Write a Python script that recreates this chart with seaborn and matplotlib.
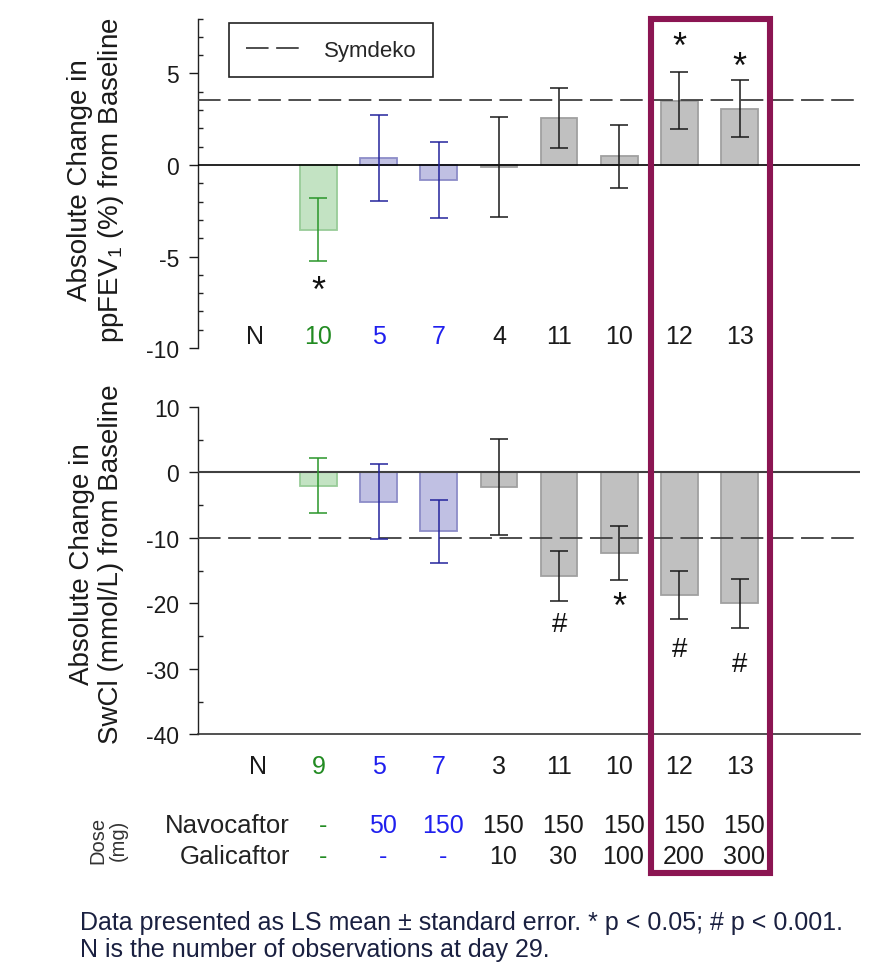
import matplotlib
matplotlib.use("Agg")
import numpy as np
import pandas as pd
import matplotlib.pyplot as plt
import matplotlib.transforms as mtransforms
import seaborn as sns
from matplotlib.lines import Line2D
from matplotlib.patches import Rectangle
from matplotlib.ticker import MultipleLocator

# -----------------------------------------------------------
# DATA
# -----------------------------------------------------------

positions = [1, 2, 3, 4, 5, 6, 7, 8]
kinds = ["placebo", "nav", "nav", "combo", "combo", "combo", "combo", "combo"]

fev_mean = [-3.53, 0.4, -0.82, -0.1, 2.58, 0.48, 3.52, 3.08]
fev_se = [1.71, 2.34, 2.1, 2.74, 1.65, 1.72, 1.58, 1.54]
fev_n = ["10", "5", "7", "4", "11", "10", "12", "13"]
fev_sig = ["*", "", "", "", "", "", "*", "*"]
fev_sig_y = [-6.9, 0, 0, 0, 0, 0, 6.4, 5.35]

swcl_mean = [-2.05, -4.45, -8.95, -2.25, -15.8, -12.25, -18.7, -20.0]
swcl_se = [4.21, 5.71, 4.81, 7.35, 3.8, 4.15, 3.7, 3.7]
swcl_n = ["9", "5", "7", "3", "11", "10", "12", "13"]
swcl_sig = ["", "", "", "", "#", "*", "#", "#"]
swcl_sig_y = [0, 0, 0, 0, -23.2, -20.6, -27.0, -29.3]

symdeko_fev = 3.57
symdeko_swcl = -10

nav_dose = ["-", "50", "150", "150", "150", "150", "150", "150"]
gal_dose = ["-", "-", "-", "10", "30", "100", "200", "300"]

FILL = {"placebo": "#c3e3c3", "nav": "#c0c0e3", "combo": "#c0c0c0"}
EDGE = {"placebo": "#98cc98", "nav": "#8c8cc8", "combo": "#a0a0a0"}
ERR = {"placebo": "#2a962a", "nav": "#24249c", "combo": "#1a1a1a"}
TXT = {"placebo": "#228b22", "nav": "#2020ee", "combo": "#1a1a1a"}
BOX = "#8b1552"
DASH = "#404040"

sns.set_style("ticks")
plt.rcParams["font.family"] = ["Liberation Sans", "DejaVu Sans"]
plt.rcParams["mathtext.fontset"] = "custom"
plt.rcParams["mathtext.rm"] = "Liberation Sans"
plt.rcParams["axes.unicode_minus"] = False

fig = plt.figure(figsize=(8.94, 9.70), dpi=100)
ax1 = fig.add_axes([0.2215, 0.6402, 0.7405, 0.3396])
ax2 = fig.add_axes([0.2215, 0.2418, 0.7405, 0.3376])

df_fev = pd.DataFrame({"pos": positions, "val": fev_mean, "kind": kinds})
df_swcl = pd.DataFrame({"pos": positions, "val": swcl_mean, "kind": kinds})


def draw_panel(ax, df, se):
    sns.barplot(data=df, x="pos", y="val", hue="kind", palette=FILL,
                native_scale=True, width=0.61, dodge=False, legend=False,
                saturation=1, ax=ax, zorder=2)
    for p in ax.patches:
        idx = int(round(p.get_x() + p.get_width() / 2)) - 1
        p.set_edgecolor(EDGE[kinds[idx]])
        p.set_linewidth(1.3)
    for i in range(len(positions)):
        ax.errorbar(positions[i], df["val"][i], yerr=se[i], fmt="none",
                    ecolor=ERR[kinds[i]], elinewidth=1.1, capsize=6.4,
                    capthick=1.1, zorder=4)
    ax.set_xlim(-1, 10)
    ax.set_xticks([])
    ax.set_xlabel("")
    ax.set_ylabel("")
    ax.spines["top"].set_visible(False)
    ax.spines["right"].set_visible(False)
    ax.spines["left"].set_linewidth(1.0)
    ax.spines["left"].set_color("#222222")
    ax.tick_params(axis="y", which="major", direction="out", length=6.5,
                   width=1.0, pad=7, labelsize=16.5, colors="#1a1a1a")
    ax.tick_params(axis="y", which="minor", direction="in", length=3.5,
                   width=1.0, colors="#222222")


# -----------------------------------------------------------
# TOP PANEL - ppFEV1
# -----------------------------------------------------------

draw_panel(ax1, df_fev, fev_se)
ax1.set_ylim(-10, 8)
ax1.set_yticks([-10, -5, 0, 5])
ax1.yaxis.set_minor_locator(MultipleLocator(1))
ax1.spines["bottom"].set_visible(False)
ax1.axhline(0, color="black", lw=1.2, zorder=3)
ax1.axhline(symdeko_fev, color=DASH, lw=1.3, dashes=(12.5, 4.2), zorder=3)

for i in range(len(positions)):
    ax1.text(positions[i], -9.35, fev_n[i], ha="center", va="center",
             fontsize=18, color=TXT[kinds[i]])
    if fev_sig[i]:
        ax1.text(positions[i], fev_sig_y[i], fev_sig[i], ha="center",
                 va="center", fontsize=26, color="#111111")
ax1.text(-0.05, -9.35, "N", ha="center", va="center", fontsize=18,
         color="#1a1a1a")

leg = ax1.legend(handles=[Line2D([], [], color=DASH, lw=1.3,
                                 dashes=(12.5, 4.2))],
                 labels=["Symdeko"], loc="upper left",
                 bbox_to_anchor=(0.047, 0.987), borderaxespad=0,
                 fontsize=16, handlelength=2.4, handletextpad=1.1,
                 borderpad=0.75, fancybox=False, framealpha=1)
leg.get_frame().set_edgecolor("#222222")
leg.get_frame().set_linewidth(1.2)

# -----------------------------------------------------------
# BOTTOM PANEL - SwCl
# -----------------------------------------------------------

draw_panel(ax2, df_swcl, swcl_se)
ax2.set_ylim(-40, 10)
ax2.set_yticks([-40, -30, -20, -10, 0, 10])
ax2.yaxis.set_minor_locator(MultipleLocator(5))
ax2.spines["bottom"].set_linewidth(1.2)
ax2.spines["bottom"].set_color("#333333")
ax2.axhline(0, color="#404040", lw=1.5, zorder=3)
ax2.axhline(symdeko_swcl, color=DASH, lw=1.3, dashes=(12.5, 4.2), zorder=3)

for i in range(len(positions)):
    ax2.text(positions[i], -44.8, swcl_n[i], ha="center", va="center",
             fontsize=18, color=TXT[kinds[i]], clip_on=False)
    if swcl_sig[i]:
        ax2.text(positions[i], swcl_sig_y[i], swcl_sig[i], ha="center",
                 va="center", fontsize=20 if swcl_sig[i] == "#" else 26,
                 color="#111111")
ax2.text(0.0, -44.8, "N", ha="center", va="center", fontsize=18,
         color="#1a1a1a", clip_on=False)

# y labels
fig.text(96.5 / 894, 1 - 180 / 970,
         "Absolute Change in\nppFEV$_\\mathregular{1}$ (%) from Baseline",
         rotation=90, ha="center", va="center", fontsize=20,
         linespacing=1.15, color="#1a1a1a")
fig.text(96.5 / 894, 1 - 564 / 970,
         "Absolute Change in\nSwCl (mmol/L) from Baseline",
         rotation=90, ha="center", va="center", fontsize=20,
         linespacing=1.15, color="#1a1a1a")

# -----------------------------------------------------------
# DOSE TABLE
# -----------------------------------------------------------

tr = mtransforms.blended_transform_factory(ax2.transData, fig.transFigure)
ax2.text(0.53, 1 - 826 / 970, "Navocaftor", transform=tr, ha="right",
         va="center", fontsize=18.5, color="#222222", clip_on=False)
ax2.text(0.53, 1 - 857 / 970, "Galicaftor", transform=tr, ha="right",
         va="center", fontsize=18.5, color="#222222", clip_on=False)
for i in range(len(positions)):
    ax2.text(positions[i] + 0.07, 1 - 826 / 970, nav_dose[i], transform=tr,
             ha="center", va="center", fontsize=18, color=TXT[kinds[i]],
             clip_on=False)
    ax2.text(positions[i] + 0.07, 1 - 857 / 970, gal_dose[i], transform=tr,
             ha="center", va="center", fontsize=18, color=TXT[kinds[i]],
             clip_on=False)
fig.text(108 / 894, 1 - 840 / 970, "Dose\n(mg)", rotation=90, ha="center",
         va="center", fontsize=14.5, linespacing=1.05, color="#333333")

# highlight box around the two top doses
trb = mtransforms.blended_transform_factory(ax1.transData, fig.transFigure)
box = Rectangle((6.53, 1 - 873.7 / 970), 8.5 - 6.53, (873.7 - 20.3) / 970,
                transform=trb, fill=False, edgecolor=BOX, lw=4.4,
                clip_on=False, zorder=10)
fig.add_artist(box)

# footnote
fig.text(80 / 894, 1 - 923 / 970,
         "Data presented as LS mean \u00b1 standard error. * p < 0.05; # p < 0.001.",
         ha="left", va="center", fontsize=18, color="#1a2040")
fig.text(80 / 894, 1 - 950 / 970,
         "N is the number of observations at day 29.",
         ha="left", va="center", fontsize=18, color="#1a2040")

fig.savefig("out.png", dpi=100)
